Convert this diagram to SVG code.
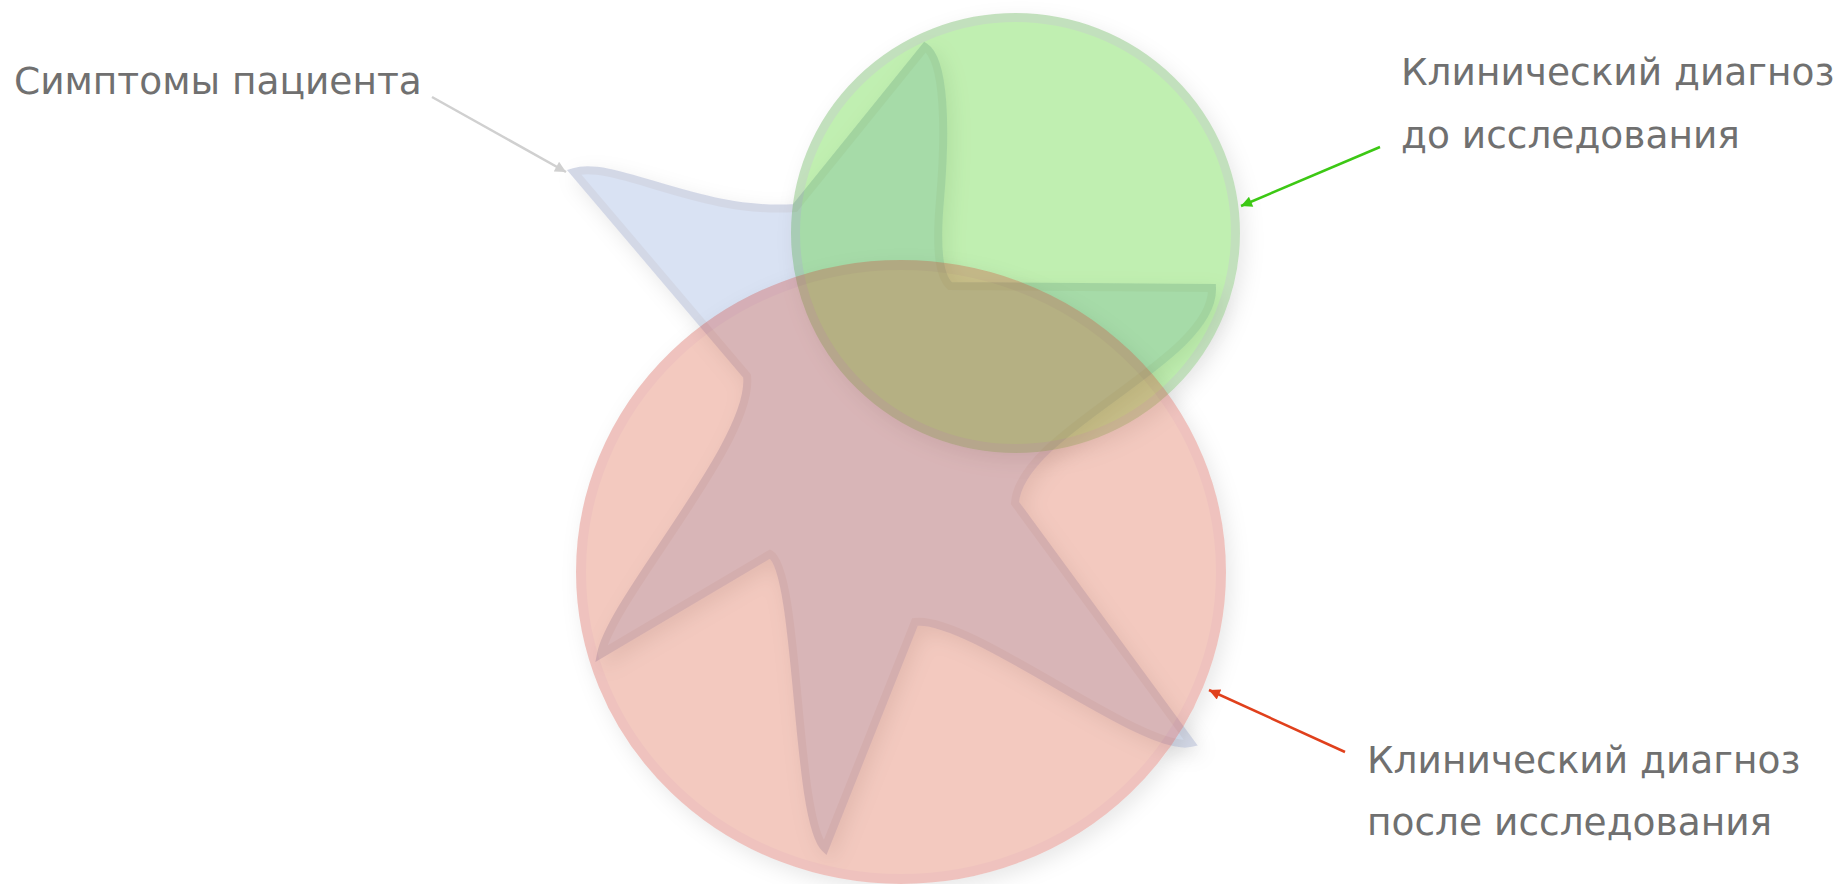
<svg xmlns="http://www.w3.org/2000/svg" xmlns:xlink="http://www.w3.org/1999/xlink" width="1845" height="884" viewBox="0 0 1845 884">
<style>
.lbl{font-family:"DejaVu Sans","Liberation Sans",sans-serif;font-size:37.5px;fill:#707070}
.conn{fill:none;stroke-width:2.5}
</style>
<defs>
<filter id="sh" x="-20%" y="-20%" width="140%" height="140%">
<feGaussianBlur in="SourceAlpha" stdDeviation="10"/>
<feOffset dx="5" dy="7" result="b"/>
<feFlood flood-color="#000" flood-opacity="0.09"/>
<feComposite in2="b" operator="in" result="s"/>
<feComposite in="s" in2="SourceAlpha" operator="out"/>
</filter>
<path id="starShape" d="M574,172 C615,160 700,215 795,208 L925,47 C945,60 946,130 940,200 C936,245 938,275 950,286 L1212,288 C1215,360 1020,430 1015,503 L1191,743 C1145,755 970,615 915,622 L825,848 C795,820 800,570 770,554 L601,654 C612,598 755,440 747,376 Z"/>
<ellipse id="greenShape" cx="1015.5" cy="233" rx="220" ry="215.5"/>
<ellipse id="redShape" cx="901" cy="572" rx="320" ry="307"/>
<marker id="ahGray" viewBox="0 0 10 10" refX="10" refY="5" markerWidth="15" markerHeight="11" markerUnits="userSpaceOnUse" orient="auto"><path d="M0,0 L10,5 L0,10 Z" fill="#d0d0d0"/></marker>
<marker id="ahGreen" viewBox="0 0 10 10" refX="10" refY="5" markerWidth="15" markerHeight="11" markerUnits="userSpaceOnUse" orient="auto"><path d="M0,0 L10,5 L0,10 Z" fill="#3cc814"/></marker>
<marker id="ahRed" viewBox="0 0 10 10" refX="10" refY="5" markerWidth="15" markerHeight="11" markerUnits="userSpaceOnUse" orient="auto"><path d="M0,0 L10,5 L0,10 Z" fill="#e0401c"/></marker>
</defs>
<rect width="1845" height="884" fill="#ffffff"/>
<g id="symptoms">
<use xlink:href="#starShape" filter="url(#sh)" fill="#000" stroke="#000" stroke-width="8"/>
<use xlink:href="#starShape" opacity="0.2" fill="#4472c4" stroke="#2a4088" stroke-width="8" stroke-linejoin="miter" stroke-miterlimit="10"/>
</g>
<g id="diag-before">
<use xlink:href="#greenShape" filter="url(#sh)" fill="#000" stroke="#000" stroke-width="9"/>
<use xlink:href="#greenShape" opacity="0.3" fill="#33cc00" stroke="#3a9a28" stroke-width="9"/>
</g>
<g id="diag-after">
<use xlink:href="#redShape" filter="url(#sh)" fill="#000" stroke="#000" stroke-width="10"/>
<use xlink:href="#redShape" opacity="0.3" fill="#d8502f" stroke="#cc3a2c" stroke-width="10"/>
</g>
<g id="connectors">
<line class="conn" x1="432" y1="97" x2="566" y2="172" stroke="#d0d0d0" marker-end="url(#ahGray)"/>
<line class="conn" x1="1380" y1="147" x2="1241" y2="206" stroke="#3cc814" marker-end="url(#ahGreen)"/>
<line class="conn" x1="1345" y1="752" x2="1209" y2="690" stroke="#e0401c" marker-end="url(#ahRed)"/>
</g>
<g id="label-symptoms"><text class="lbl" x="14" y="94">Симптомы пациента</text></g>
<g id="label-before"><text class="lbl" x="1401" y="85">Клинический диагноз</text><text class="lbl" x="1401" y="148">до исследования</text></g>
<g id="label-after"><text class="lbl" x="1367" y="773">Клинический диагноз</text><text class="lbl" x="1367" y="835">после исследования</text></g>
</svg>
